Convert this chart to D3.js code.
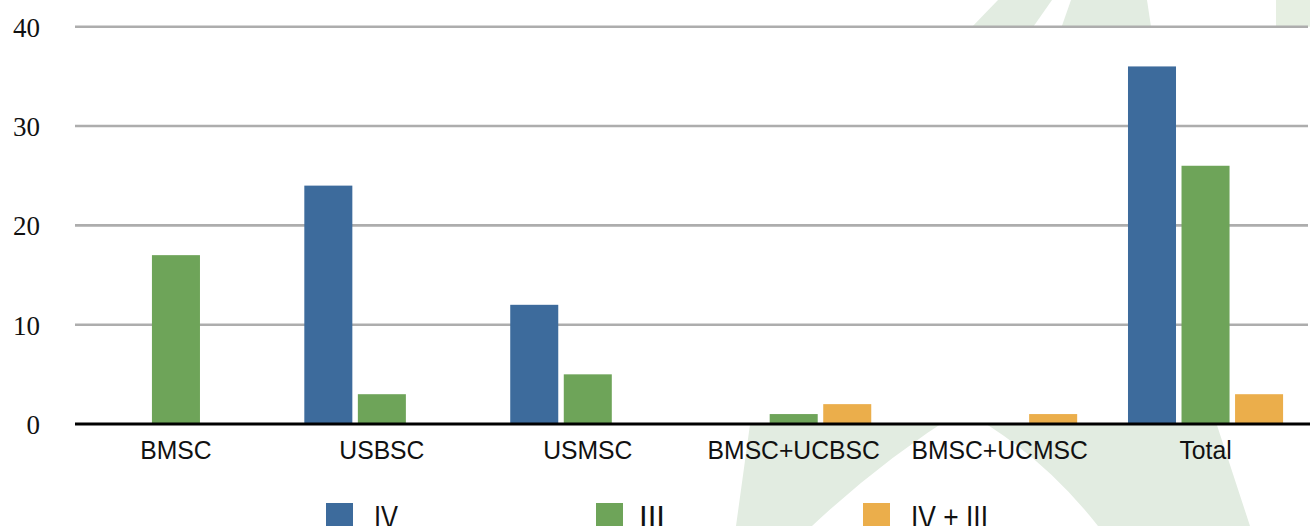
<!DOCTYPE html>
<html>
<head>
<meta charset="utf-8">
<script src="https://cdn.jsdelivr.net/npm/d3@7"></script>
<style>
  html, body { margin: 0; padding: 0; background: #ffffff; overflow: hidden; }
  svg { display: block; }
</style>
</head>
<body>
<svg id="chart" width="1310" height="526"></svg>
<script>
// Cell types and the three groups counted for each
const categories = ["BMSC", "USBSC", "USMSC", "BMSC+UCBSC", "BMSC+UCMSC", "Total"];
const seriesNames = ["IV", "III", "IV + III"];
const seriesColors = ["#3d6b9c", "#6ea459", "#ebae4b"];
const valuesIV    = [0, 24, 12, 0, 0, 36];
const valuesIII   = [17, 3, 5, 1, 0, 26];
const valuesIVIII = [0, 0, 0, 2, 1, 3];
const yTicks = [0, 10, 20, 30, 40];

const seriesValues = [valuesIV, valuesIII, valuesIVIII];
const rows = categories.map((c, i) => ({
  category: c,
  values: seriesNames.map((s, k) => ({ series: s, value: seriesValues[k][i], color: seriesColors[k] }))
}));

const svg = d3.select("#chart");

// Faint leaf watermark behind the chart
const wm = svg.append("g").attr("fill", "#e2ece1");
wm.append("path").attr("d", "M998,0 L1052,0 L1010,60 L940,60 Z");
wm.append("path").attr("d", "M1071,0 L1147,0 L1156,60 L1050,60 Z");
wm.append("path").attr("d", "M1276,0 L1310,0 L1310,60 L1276,60 Z").attr("fill", "#e6efe2");
wm.append("path").attr("d", "M752,410 L962,410 Q880,462 812,526 L736,526 Z");
wm.append("path").attr("d", "M962,410 L1212,410 L1250,526 L1098,526 Q1040,452 962,410 Z");

const x = d3.scaleBand().domain(categories).range([73, 1308.5]).paddingInner(0).paddingOuter(0);
const xInner = d3.scaleBand().domain(seriesNames).range([25.4, 180.5]).paddingInner(0.103).paddingOuter(0);
const y = d3.scaleLinear().domain([0, 40]).range([424, 26.7]);

// Plot background
svg.append("rect")
  .attr("x", 73).attr("y", y(40))
  .attr("width", 1310 - 73).attr("height", y(0) - y(40))
  .attr("fill", "#ffffff");

// Value axis labels
const yAxis = d3.axisLeft(y).tickValues(yTicks).tickSize(0).tickPadding(0);
const yg = svg.append("g").attr("transform", "translate(40,0)").call(yAxis);
yg.select(".domain").remove();
yg.selectAll("text")
  .attr("x", 0)
  .attr("dy", "0.35em")
  .attr("text-anchor", "end")
  .attr("fill", "#111")
  .style("font-family", "'Liberation Serif', 'DejaVu Serif', serif")
  .style("font-size", "27px");

// Horizontal grid
svg.append("g")
  .selectAll("line")
  .data(yTicks.filter(t => t > 0))
  .join("line")
  .attr("x1", 75).attr("x2", 1308)
  .attr("y1", d => y(d)).attr("y2", d => y(d))
  .attr("stroke", "#adadad")
  .attr("stroke-width", 2.6);

// Bars
const groups = svg.append("g")
  .selectAll("g")
  .data(rows)
  .join("g")
  .attr("transform", d => `translate(${x(d.category)},0)`);

groups.selectAll("rect")
  .data(d => d.values.filter(v => v.value > 0))
  .join("rect")
  .attr("x", d => xInner(d.series))
  .attr("width", xInner.bandwidth())
  .attr("y", d => y(d.value))
  .attr("height", d => y(0) - y(d.value))
  .attr("fill", d => d.color);

// Baseline
svg.append("line")
  .attr("x1", 75).attr("x2", 1310)
  .attr("y1", y(0)).attr("y2", y(0))
  .attr("stroke", "#000")
  .attr("stroke-width", 3);

// Category labels, slightly condensed
const xAxis = d3.axisBottom(x).tickSize(0).tickPadding(0);
const xg = svg.append("g").attr("transform", "translate(0,459)").call(xAxis);
xg.select(".domain").remove();
xg.selectAll("text")
  .attr("y", 0)
  .attr("dy", 0)
  .attr("fill", "#111")
  .style("font-family", "'Liberation Sans', Arial, sans-serif")
  .style("font-size", "26px")
  .each(function () {
    const w = this.getComputedTextLength();
    d3.select(this).attr("textLength", w * 0.95).attr("lengthAdjust", "spacingAndGlyphs");
  });

// Legend
const legendX = [326, 596, 863];
const legendTextX = [374, 639, 911];
const legendTextW = [24, 26, 77];
const legend = svg.append("g")
  .selectAll("g")
  .data(seriesNames)
  .join("g");
legend.append("rect")
  .attr("x", (d, i) => legendX[i])
  .attr("y", 503)
  .attr("width", 27)
  .attr("height", 30)
  .attr("fill", (d, i) => seriesColors[i]);
legend.append("text")
  .attr("x", (d, i) => legendTextX[i])
  .attr("y", 528)
  .attr("textLength", (d, i) => legendTextW[i])
  .attr("lengthAdjust", "spacingAndGlyphs")
  .attr("fill", "#111")
  .style("font-family", "'Liberation Sans', Arial, sans-serif")
  .style("font-size", "31px")
  .text(d => d);
</script>
</body>
</html>
